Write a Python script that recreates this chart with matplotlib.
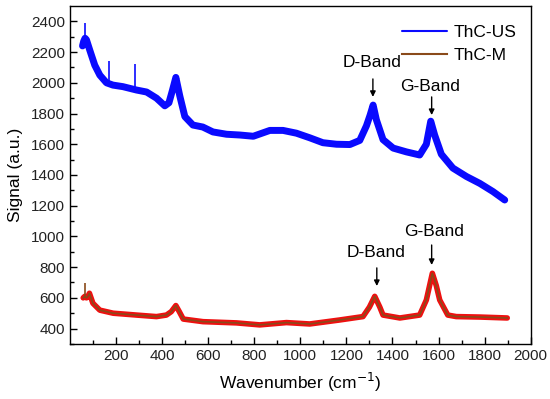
import numpy as np
import matplotlib.pyplot as plt

plt.rcParams['font.family'] = ['Liberation Sans', 'DejaVu Sans']

# ThC-US spectrum (centre of the noisy band)
wn_us = [55, 60, 66, 72, 87, 108, 130, 159, 187, 230, 289, 333, 376, 412, 430,
         445, 460, 477, 499, 534, 577, 621, 680, 738, 796, 868, 925, 983, 1041,
         1098, 1157, 1215, 1258, 1287, 1303, 1316, 1330, 1359, 1403, 1461, 1518,
         1547, 1566, 1583, 1612, 1662, 1721, 1779, 1836, 1887]
sig_us = [2240, 2270, 2290, 2280, 2210, 2115, 2050, 2000, 1985, 1975, 1953, 1940,
          1900, 1850, 1870, 1950, 2035, 1915, 1780, 1725, 1712, 1680, 1665, 1660,
          1652, 1690, 1690, 1672, 1642, 1610, 1600, 1598, 1625, 1720, 1790, 1855,
          1760, 1630, 1575, 1550, 1530, 1600, 1750, 1660, 1535, 1445, 1390, 1345,
          1292, 1237]
# cosmic-ray spikes on ThC-US
spk_us_x = [64, 169, 282]
spk_us_lo = [2270, 1990, 1955]
spk_us_hi = [2390, 2140, 2120]

# ThC-M spectrum
wn_m = [58, 65, 72, 78, 85, 100, 130, 188, 289, 376, 419, 440, 460, 475, 492,
        578, 723, 824, 940, 1041, 1171, 1272, 1300, 1323, 1345, 1359, 1432, 1518,
        1547, 1573, 1590, 1605, 1640, 1677, 1780, 1898]
sig_m = [600, 610, 600, 608, 630, 565, 520, 500, 488, 478, 488, 510, 550, 510, 462,
         445, 437, 424, 439, 430, 456, 478, 540, 610, 540, 488, 469, 488, 586, 760,
         680, 586, 488, 478, 475, 469]
spk_m_x = [65]
spk_m_lo = [600]
spk_m_hi = [697]

fig = plt.figure(figsize=(5.5, 3.99), dpi=100)
ax = fig.add_axes([0.127, 0.138, 0.838, 0.847])

ax.plot(wn_us, sig_us, color='#0a0aff', lw=5, solid_joinstyle='round',
        solid_capstyle='round', label='ThC-US')
ax.vlines(spk_us_x, spk_us_lo, spk_us_hi, color='#0a0aff', lw=1.2)

ax.plot(wn_m, sig_m, color='#ee1010', lw=4, solid_joinstyle='round',
        solid_capstyle='round')
ax.plot(wn_m, sig_m, color='#8a4a1a', lw=1.2, label='ThC-M')
ax.vlines(spk_m_x, spk_m_lo, spk_m_hi, color='#8a4a1a', lw=1.2)

# peak labels: (text x, text y, arrow x, arrow top, arrow tip)
arrow = dict(arrowstyle='-|>', color='black', lw=1, mutation_scale=8,
             shrinkA=0, shrinkB=0)
fs = 12.5
labels = [('D-Band', 1310, 2129, 1315, 2025, 1908),
          ('G-Band', 1562, 1979, 1570, 1908, 1790),
          ('D-Band', 1328, 892, 1332, 795, 677),
          ('G-Band', 1579, 1029, 1570, 944, 814)]
for txt, tx, ty, axx, a0, a1 in labels:
    ax.text(tx, ty, txt, ha='center', va='center', fontsize=fs)
    ax.annotate('', xy=(axx, a1), xytext=(axx, a0), arrowprops=arrow)

ax.set_xlim(0, 2000)
ax.set_ylim(300, 2500)
ax.set_xticks(range(200, 2001, 200))
ax.set_xticks(range(100, 2000, 200), minor=True)
ax.set_yticks(range(400, 2401, 200))
ax.set_yticks(range(300, 2500, 200), minor=True)
ax.tick_params(which='both', direction='in', labelsize=11, width=1,
               labelcolor='#222222')
ax.tick_params(which='major', length=5)
ax.tick_params(which='minor', length=3)
for s in ax.spines.values():
    s.set_linewidth(1)

ax.set_xlabel('Wavenumber (cm$^{-1}$)', fontsize=12.5, labelpad=6)
ax.set_ylabel('Signal (a.u.)', fontsize=12.5, labelpad=6)

leg = ax.legend(loc='upper right', bbox_to_anchor=(0.985, 0.965),
                frameon=False, fontsize=12.5, handlelength=2.6,
                handletextpad=0.4, borderaxespad=0, labelspacing=0.45)
for h in leg.get_lines():
    h.set_linewidth(1.5)

fig.savefig('out.png', dpi=100)
